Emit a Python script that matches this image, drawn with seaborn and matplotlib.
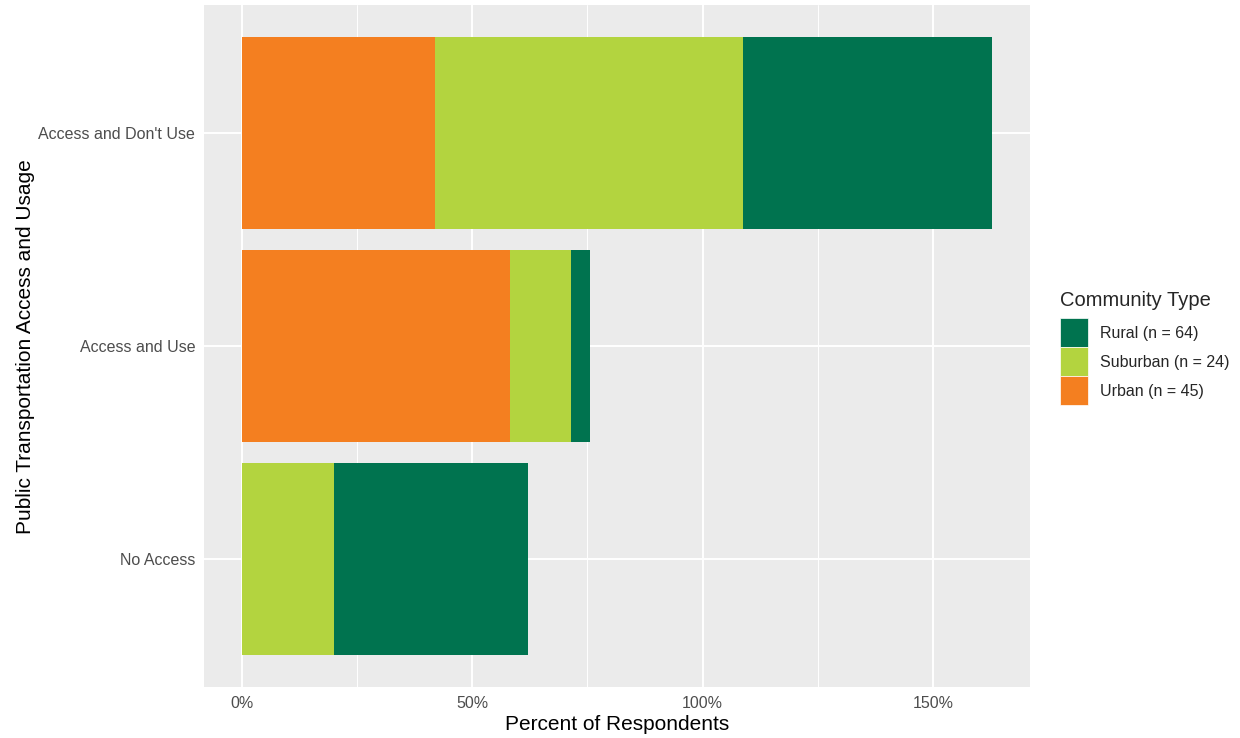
import matplotlib
matplotlib.use("Agg")
import pandas as pd
import matplotlib.pyplot as plt
import seaborn as sns
from matplotlib.patches import Patch
from matplotlib.ticker import FuncFormatter, MultipleLocator

# data (percent of respondents)
categories = ["Access and Don't Use", "Access and Use", "No Access"]
community = ["Rural (n = 64)", "Suburban (n = 24)", "Urban (n = 45)"]
urban = [42.0, 58.2, 0.0]
suburban = [66.8, 13.3, 20.0]
rural = [54.1, 4.0, 42.2]
colors = ["#00734F", "#B3D43F", "#F47F20"]
x_ticks = [0, 50, 100, 150]

# stack by overlap: each layer is drawn to its cumulative end, longest first
urban_end = list(urban)
suburban_end = [u + s for u, s in zip(urban, suburban)]
rural_end = [se + r for se, r in zip(suburban_end, rural)]

df = pd.DataFrame({
    "access": categories * 3,
    "community": [community[0]] * 3 + [community[1]] * 3 + [community[2]] * 3,
    "end": rural_end + suburban_end + urban_end,
})

sns.set_theme(style="darkgrid", rc={"axes.facecolor": "#EBEBEB"})
plt.rcParams["font.family"] = ["Liberation Sans", "DejaVu Sans"]

fig = plt.figure(figsize=(12.4, 7.38), dpi=100)
ax = fig.add_axes([0.1648, 0.0687, 0.8306 - 0.1648, 0.9932 - 0.0687])

sns.barplot(data=df, y="access", x="end", hue="community", hue_order=community,
            order=categories, palette=colors, dodge=False, width=0.9,
            orient="h", saturation=1, linewidth=0, legend=False, ax=ax)

xmax = max(rural_end)
ax.set_xlim(-0.05 * xmax, xmax * 1.05)
ax.set_ylim(2.6, -0.6)
ax.set_xticks(x_ticks)
ax.xaxis.set_major_formatter(FuncFormatter(lambda v, p: f"{v:.0f}%"))
ax.xaxis.set_minor_locator(MultipleLocator(25))

ax.set_axisbelow(True)
ax.grid(which="major", axis="both", color="white", linewidth=1.4)
ax.grid(which="minor", axis="x", color="white", linewidth=0.7)
for s in ax.spines.values():
    s.set_visible(False)

ax.tick_params(axis="both", which="major", length=3, width=0.9, color="#333333",
               labelcolor="#4D4D4D", labelsize=11.5, pad=3.5)
ax.tick_params(axis="both", which="minor", length=0)

ax.set_xlabel("Percent of Respondents", fontsize=15, color="black")
ax.set_ylabel("Public Transportation Access and Usage", fontsize=15, color="black")
ax.xaxis.set_label_coords(0.5, -0.04)
ax.yaxis.set_label_coords(-0.205, 0.5)

handles = [Patch(facecolor=c, edgecolor="white", linewidth=0.5, label=l)
           for c, l in zip(colors, community)]
leg = ax.legend(handles=handles, title="Community Type", loc="center left",
                bbox_to_anchor=(1.036, 0.497), frameon=False, borderpad=0,
                borderaxespad=0, fontsize=11.5, title_fontsize=14.5,
                handlelength=1.75, handleheight=2.42, handletextpad=0.75,
                labelspacing=0, alignment="left")
leg._legend_box.sep = 6  # gap between title and keys

fig.savefig("out.png", dpi=100)
